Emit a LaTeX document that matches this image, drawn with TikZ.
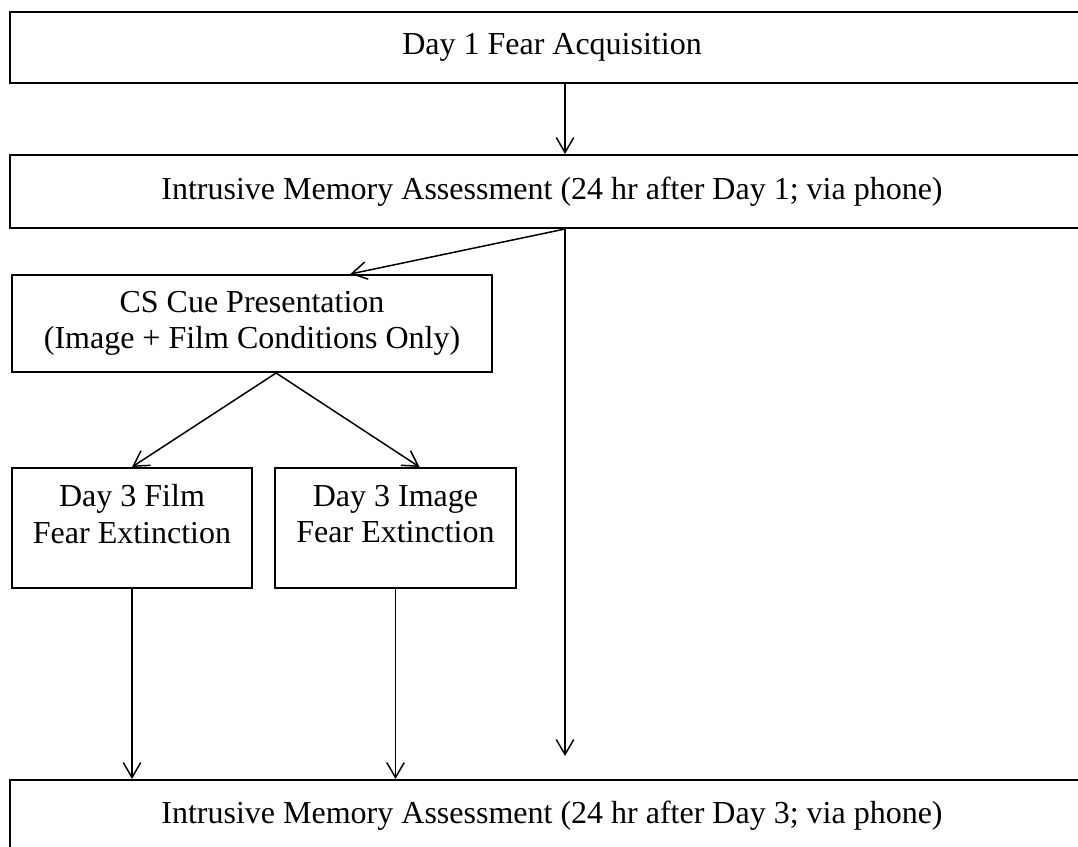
\documentclass[tikz,border=0pt]{standalone}
\usepackage{fontspec}
\setmainfont{Liberation Serif}
\usetikzlibrary{arrows.meta,calc}

\begin{document}
\begin{tikzpicture}[x=0.4pt, y=-0.4pt,
    every node/.style={font=\fontsize{12.8}{14.6}\selectfont},
    stagebox/.style={draw, line width=0.8pt, inner sep=0pt, align=center},
    flow/.style={-{Straight Barb[length=6pt,width=7pt]}, line width=0.6pt}]
    \clip (0,0) rectangle (1078,846);

    % Assessment stages
    \node[stagebox, minimum width=433.6pt, minimum height=28.4pt] (acq) at (552,47.5) {Day 1 Fear Acquisition};
    \node[stagebox, minimum width=433.6pt, minimum height=29.2pt] (ima1) at (552,191.5) {Intrusive Memory Assessment (24 hr after Day 1; via phone)};
    \node[stagebox, minimum width=433.6pt, minimum height=28.8pt] (ima3) at (552,816) {Intrusive Memory Assessment (24 hr after Day 3; via phone)};

    % Cue presentation
    \node[stagebox, minimum width=192pt, minimum height=38.8pt] (cs) at (252,323.5) {CS Cue Presentation\\(Image + Film Conditions Only)};

    % Extinction
    \node[stagebox, minimum width=96pt, minimum height=48pt] (film) at (132,528) {};
    \node[stagebox, minimum width=96.4pt, minimum height=48pt] (image) at (395.5,528) {};
    \node[align=center] (filmtext) at ($(film.north)+(0,47)$) {Day 3 Film\\Fear Extinction};
    \node[align=center] (imagetext) at ($(image.north)+(0,47)$) {Day 3 Image\\Fear Extinction};

    % Arrows
    \coordinate (skip) at ($(ima1.south)+(13,527)$);
    \draw[flow] ($(acq.south)+(13,0)$) -- ($(ima1.north)+(13,0)$);
    \draw[flow] ($(ima1.south)+(13,0)$) -- ($(cs.north west)!0.704!(cs.north east)$);
    \draw[flow] ($(cs.south west)!0.55!(cs.south east)$) -- (film.north);
    \draw[flow] ($(cs.south west)!0.55!(cs.south east)$) -- ($(image.north)+(24,0)$);
    \draw[flow] (film.south) -- (film.south |- ima3.north);
    \draw[flow] (image.south) -- (image.south |- ima3.north);
    \draw[flow] ($(ima1.south)+(13,0)$) -- (skip);
\end{tikzpicture}
\end{document}
